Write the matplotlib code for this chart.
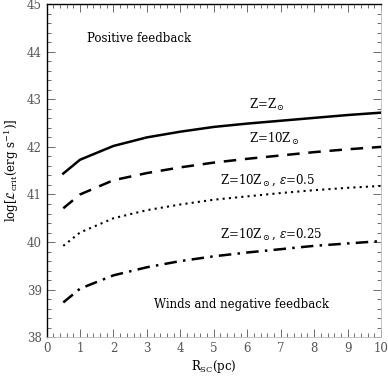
import matplotlib
matplotlib.use('Agg')
import matplotlib.pyplot as plt
from matplotlib.ticker import MultipleLocator

plt.rcParams['font.family'] = ['DejaVu Serif']
plt.rcParams['mathtext.fontset'] = 'dejavuserif'

# radius of the cluster (pc)
r_sc = [0.5, 1, 2, 3, 4, 5, 6, 7, 8, 9, 10]

# log critical luminosity for each model
lcrit_zsun = [41.44, 41.73, 42.02, 42.20, 42.32, 42.42, 42.49, 42.55, 42.61, 42.67, 42.72]
lcrit_10z = [40.71, 41.00, 41.30, 41.45, 41.57, 41.67, 41.75, 41.82, 41.89, 41.95, 42.00]
lcrit_10z_e05 = [39.92, 40.20, 40.50, 40.67, 40.79, 40.89, 40.96, 41.03, 41.09, 41.14, 41.18]
lcrit_10z_e025 = [38.73, 39.02, 39.30, 39.47, 39.60, 39.70, 39.78, 39.85, 39.92, 39.97, 40.02]

fig = plt.figure(figsize=(3.88, 3.81), dpi=100)
ax = fig.add_axes([0.120, 0.115, 0.862, 0.874])

ax.plot(r_sc, lcrit_zsun, '-', color='black', lw=1.8)
ax.plot(r_sc, lcrit_10z, color='black', lw=1.8, dashes=(5, 3.5))
ax.plot(r_sc, lcrit_10z_e05, color='black', lw=1.5, dashes=(1, 2))
ax.plot(r_sc, lcrit_10z_e025, color='black', lw=1.8, dashes=(5, 2.5, 1, 2.5))

fs = 8.5
ax.text(6.05, 42.88, r'Z=Z$_\odot$', fontsize=fs, va='center')
ax.text(6.05, 42.17, r'Z=10Z$_\odot$', fontsize=fs, va='center')
ax.text(5.2, 41.29, r'Z=10Z$_\odot$, $\epsilon$=0.5', fontsize=fs, va='center')
ax.text(5.2, 40.17, r'Z=10Z$_\odot$, $\epsilon$=0.25', fontsize=fs, va='center')
ax.text(1.2, 44.27, 'Positive feedback', fontsize=fs, va='center')
ax.text(3.2, 38.69, 'Winds and negative feedback', fontsize=fs, va='center')

ax.set_xlim(0, 10)
ax.set_ylim(38, 45)
ax.xaxis.set_major_locator(MultipleLocator(1))
ax.xaxis.set_minor_locator(MultipleLocator(0.2))
ax.yaxis.set_major_locator(MultipleLocator(1))
ax.yaxis.set_minor_locator(MultipleLocator(0.2))
ax.tick_params(which='both', direction='in', top=True, right=True,
               labelsize=fs, colors='#555555', width=0.6)
ax.tick_params(which='major', length=6)
ax.tick_params(which='minor', length=3)

ax.spines['left'].set_linewidth(1.0)
ax.spines['top'].set_linewidth(1.0)
ax.spines['right'].set_color('#bbbbbb')
ax.spines['bottom'].set_color('#bbbbbb')
ax.spines['right'].set_linewidth(0.6)
ax.spines['bottom'].set_linewidth(0.6)

ax.set_xlabel(r'R$_{\rm SC}$(pc)', fontsize=fs, labelpad=2)
ax.set_ylabel(r'log[$\mathcal{L}_{\rm crit}$(erg s$^{-1}$)]', fontsize=fs, labelpad=4)

plt.savefig('out.png', dpi=100)
